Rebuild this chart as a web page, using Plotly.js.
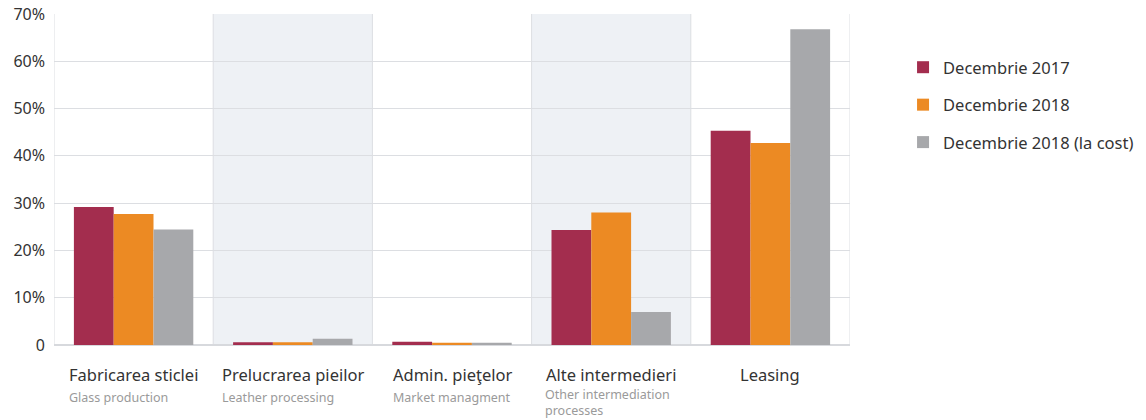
<!DOCTYPE html>
<html>
<head>
<meta charset="utf-8">
<script src="https://cdn.plot.ly/plotly-3.0.1.min.js"></script>
<style>
html,body{margin:0;padding:0;background:#fff;}
#chart{width:1146px;height:420px;}
</style>
</head>
<body>
<div id="chart"></div>
<script>
const categories = ["Fabricarea sticlei", "Prelucrarea pieilor", "Admin. pieţelor", "Alte intermedieri", "Leasing"];
const subtitles = [["Glass production"], ["Leather processing"], ["Market managment"], ["Other intermediation", "processes"], []];
const seriesNames = ["Decembrie 2017", "Decembrie 2018", "Decembrie 2018 (la cost)"];
const dec2017 = [29.2, 0.6, 0.7, 24.3, 45.3];
const dec2018 = [27.7, 0.6, 0.5, 28.0, 42.7];
const dec2018Cost = [24.4, 1.3, 0.5, 7.0, 66.8];
const seriesColors = ["#a32d4e", "#ec8a23", "#a7a8ab"];
const tickVals = [0, 10, 20, 30, 40, 50, 60, 70];
const tickText = ["0", "10%", "20%", "30%", "40%", "50%", "60%", "70%"];
const shadedIdx = [1, 3];

const FONT = "Noto Sans, Open Sans, sans-serif";
const xIdx = categories.map((c, i) => i);
const seriesValues = [dec2017, dec2018, dec2018Cost];

const traces = seriesValues.map((vals, k) => ({
  type: "bar",
  x: xIdx,
  y: vals,
  name: seriesNames[k],
  legendgroup: "g" + k,
  marker: {color: seriesColors[k], line: {width: 0}},
  hoverinfo: "skip"
}));

const shapes = [];
shadedIdx.forEach(i => {
  shapes.push({type: "rect", xref: "x", yref: "paper", x0: i - 0.5, x1: i + 0.5, y0: 0, y1: 1,
    fillcolor: "#eef1f5", line: {width: 0}, layer: "below"});
});
for (let i = 0; i <= categories.length; i++) {
  shapes.push({type: "line", xref: "x", yref: "paper", x0: i - 0.5, x1: i - 0.5, y0: 0, y1: 1,
    line: {color: "#dcdee2", width: 1}, layer: "below"});
}

const SUB_STYLE = "font-size:12.5px;color:#9a9a9a";
const annotations = [];
categories.forEach((c, i) => {
  const subs = subtitles[i];
  if (subs.length <= 1) {
    let txt = c;
    if (subs.length === 1) txt += "<br><span style='" + SUB_STYLE + "'>" + subs[0] + "</span>";
    annotations.push({
      xref: "x", yref: "paper", x: i, y: 0, yshift: -16,
      xanchor: "center", yanchor: "top", align: "left",
      text: txt, showarrow: false,
      font: {family: FONT, size: 16.5, color: "#333"}
    });
  } else {
    annotations.push({
      xref: "x", yref: "paper", x: i, y: 0, yshift: -16,
      xanchor: "center", yanchor: "top", align: "left",
      text: c, showarrow: false,
      font: {family: FONT, size: 16.5, color: "#333"}
    });
    annotations.push({
      xref: "x", yref: "paper", x: i, y: 0, yshift: -39, xshift: -4,
      xanchor: "center", yanchor: "top", align: "left",
      text: subs.join("<br>"), showarrow: false,
      font: {family: FONT, size: 12.5, color: "#9a9a9a"}
    });
  }
});

const layout = {
  width: 1146, height: 420,
  margin: {l: 54, r: 296, t: 14, b: 75, autoexpand: false},
  paper_bgcolor: "#fff", plot_bgcolor: "rgba(0,0,0,0)",
  barmode: "group", bargap: 0.25, bargroupgap: 0,
  showlegend: true,
  legend: {xref: "container", yref: "container", x: 0.788, y: 0.881, xanchor: "left", yanchor: "top",
    font: {family: FONT, size: 16.5, color: "#333"},
    traceorder: "grouped", tracegroupgap: 13, itemwidth: 30},
  xaxis: {range: [-0.5, categories.length - 0.5], showticklabels: false, showgrid: false,
    zeroline: false, showline: false, ticks: "", fixedrange: true},
  yaxis: {range: [0, 70], tickvals: tickVals, ticktext: tickText, showgrid: true,
    gridcolor: "#dcdee2", gridwidth: 1, zeroline: true, zerolinecolor: "#d7d9dd", zerolinewidth: 2,
    showline: false, ticks: "", ticklen: 0, tickfont: {family: FONT, size: 16, color: "#333"},
    ticklabelstandoff: 8, fixedrange: true},
  shapes: shapes,
  annotations: annotations
};

Plotly.newPlot("chart", traces, layout, {displayModeBar: false, staticPlot: true});
</script>
</body>
</html>
